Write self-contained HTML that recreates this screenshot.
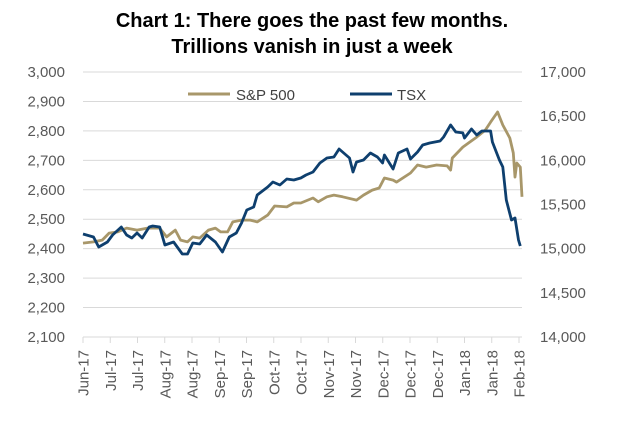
<!DOCTYPE html>
<html><head><meta charset="utf-8"><style>
body{margin:0;background:#fff;font-family:"Liberation Sans",Arial,sans-serif}
svg text{font-family:"Liberation Sans",Arial,sans-serif}
</style></head><body>
<svg id="c" width="626" height="427">
<text x="312" y="27" text-anchor="middle" font-size="20" font-weight="bold" fill="#000">Chart 1:  There goes the past few months.</text>
<text x="312" y="53" text-anchor="middle" font-size="20" font-weight="bold" fill="#000">Trillions vanish in just a week</text>
<g id="grid"></g><g id="axes"></g><g id="series"></g>
<g>
<line x1="188" y1="94" x2="230" y2="94" stroke="#A8976A" stroke-width="3"/>
<text x="236" y="100" font-size="15" fill="#404040">S&amp;P 500</text>
<line x1="350" y1="94" x2="392" y2="94" stroke="#0E3F6E" stroke-width="3"/>
<text x="397" y="100" font-size="15" fill="#404040">TSX</text>
</g>
</svg>
<script>
const leftTicks=[2100,2200,2300,2400,2500,2600,2700,2800,2900,3000];
const rightTicks=[14000,14500,15000,15500,16000,16500,17000];
const xLabels=["Jun-17","Jul-17","Jul-17","Aug-17","Aug-17","Sep-17","Sep-17","Oct-17","Oct-17","Nov-17","Nov-17","Dec-17","Dec-17","Dec-17","Jan-18","Jan-18","Feb-18"];
const tsxDays=[0,6,9,14,17,22,25,28,31,34,38,40,44,47,52,57,60,63,67,71,76,80,84,88,91,94,98,100,106,109,113,117,121,125,128,132,136,140,144,147,153,155,157,161,165,169,172,173,178,181,186,188,192,195,199,205,207,211,214,218,219,223,226,229,234,235,239,241,243,246,248,250,251];
const tsxValues=[15166,15132,15019,15076,15155,15245,15155,15121,15177,15121,15245,15257,15245,15042,15076,14940,14940,15064,15053,15155,15076,14962,15132,15177,15290,15438,15472,15608,15698,15755,15721,15789,15777,15800,15834,15868,15970,16026,16038,16128,16026,15868,15981,16004,16083,16038,15970,16060,15902,16083,16128,16015,16094,16174,16196,16219,16264,16400,16321,16310,16253,16355,16287,16332,16332,16208,16004,15925,15551,15325,15347,15098,15030];
const spDays=[0,6,11,15,20,25,31,37,44,48,53,56,60,63,67,72,76,79,83,86,91,96,100,106,110,117,121,125,132,135,140,144,149,157,161,166,170,173,178,180,188,192,197,203,209,211,212,218,222,226,231,234,238,241,245,247,248,249,251,252];
const spValues=[2419,2423,2429,2453,2457,2470,2463,2470,2470,2440,2463,2429,2423,2440,2436,2463,2470,2457,2457,2491,2497,2497,2491,2514,2545,2542,2555,2555,2572,2559,2576,2582,2576,2565,2582,2599,2606,2640,2633,2626,2657,2684,2677,2684,2681,2667,2708,2745,2762,2779,2803,2830,2864,2820,2776,2725,2643,2691,2677,2576];
const NS='http://www.w3.org/2000/svg';
const X0=83,X1=522,Y0=72,Y1=337;
const xs=d=>X0+d/252*(X1-X0);
const yL=v=>Y1-(v-2100)/900*(Y1-Y0);
const yR=v=>Y1-(v-14000)/3000*(Y1-Y0);
function mk(t,a,p){const e=document.createElementNS(NS,t);for(const k in a)e.setAttribute(k,a[k]);p.appendChild(e);return e;}
const grid=document.getElementById('grid'),axes=document.getElementById('axes'),ser=document.getElementById('series');
leftTicks.forEach(v=>{
 const l=mk('line',{x1:X0,x2:X1,y1:yL(v),y2:yL(v),stroke:'#D9D9D9','stroke-width':1},grid);
 
 
 const t=mk('text',{x:65,y:yL(v)+5,'text-anchor':'end','font-size':15,fill:'#595959'},axes);
 t.textContent=v.toLocaleString('en-US');
 
 
});
rightTicks.forEach(v=>{
 const t=mk('text',{x:540,y:yR(v)+5,'font-size':15,fill:'#595959'},axes);
 t.textContent=v.toLocaleString('en-US');
 
 
});
const base=mk('line',{x1:X0,x2:X1,y1:Y1,y2:Y1,stroke:'#D9D9D9','stroke-width':1},axes);


const step=(519-83)/(xLabels.length-1);
xLabels.forEach((s,i)=>{
 const x=83+i*step;
 const tk=mk('line',{x1:x,x2:x,y1:Y1,y2:Y1+6,stroke:'#D9D9D9','stroke-width':1},axes);
 
 
 const t=mk('text',{x:0,y:0,'text-anchor':'end','font-size':15,fill:'#595959',transform:`translate(${x+5.5},${Y1+13}) rotate(-90)`},axes);
 t.textContent=s;
 
 
});
function path(days,vals,f){return days.map((d,i)=>(i?'L':'M')+xs(d).toFixed(1)+','+f(vals[i]).toFixed(1)).join('');}
const sp=mk('path',{d:path(spDays,spValues,yL),fill:'none',stroke:'#A8976A','stroke-width':2.8,'stroke-linejoin':'round'},ser);


const tsx=mk('path',{d:path(tsxDays,tsxValues,yR),fill:'none',stroke:'#0E3F6E','stroke-width':2.8,'stroke-linejoin':'round'},ser);


</script>
</body></html>
